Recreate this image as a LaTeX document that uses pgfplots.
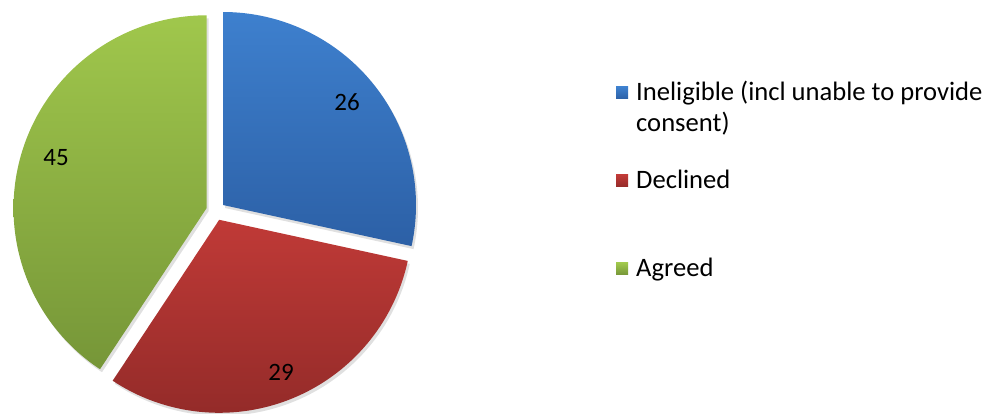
\documentclass[border=0pt]{standalone}
\usepackage{pgfplots}
\pgfplotsset{compat=1.18}
\usepackage{fontspec}
\setmainfont{Carlito}
\definecolor{bluetop}{RGB}{62,128,206}
\definecolor{bluebot}{RGB}{44,96,166}
\definecolor{redtop}{RGB}{192,58,55}
\definecolor{redbot}{RGB}{148,43,41}
\definecolor{greentop}{RGB}{160,199,76}
\definecolor{greenbot}{RGB}{118,150,56}
\begin{document}
\begin{tikzpicture}
\begin{axis}[name=ax,
  width=991pt, height=414pt, scale only axis,
  xmin=0, xmax=991, ymin=0, ymax=414, y dir=reverse,
  hide axis, clip=false]
% slice data: value, start angle, end angle (as drawn), slice centre
% Ineligible 26 : -12.3 .. 90,    centre (223.0,205.0)
% Declined   29 : -123.5 .. -12.3, centre (219.2,219.8)
% Agreed     45 : 90 .. 236.5,    centre (206.5,208.3)
% shadows
\addplot[draw=none, fill=black, fill opacity=0.12, domain=-12.3:90, samples=90, variable=\t]
  ({225.0+193*cos(t)}, {208.0-193*sin(t)}) -- (axis cs:225.0,208.0) -- cycle;
\addplot[draw=none, fill=black, fill opacity=0.12, domain=-123.5:-12.3, samples=90, variable=\t]
  ({221.2+193*cos(t)}, {222.8-193*sin(t)}) -- (axis cs:221.2,222.8) -- cycle;
\addplot[draw=none, fill=black, fill opacity=0.12, domain=90:236.5, samples=120, variable=\t]
  ({208.5+193*cos(t)}, {211.3-193*sin(t)}) -- (axis cs:208.5,211.3) -- cycle;
% slices
\addplot[draw=none, top color=bluetop, bottom color=bluebot, domain=-12.3:90, samples=90, variable=\t]
  ({223.0+193*cos(t)}, {205.0-193*sin(t)}) -- (axis cs:223.0,205.0) -- cycle;
\addplot[draw=none, top color=redtop, bottom color=redbot, domain=-123.5:-12.3, samples=90, variable=\t]
  ({219.2+193*cos(t)}, {219.8-193*sin(t)}) -- (axis cs:219.2,219.8) -- cycle;
\addplot[draw=none, top color=greentop, bottom color=greenbot, domain=90:236.5, samples=120, variable=\t]
  ({206.5+193*cos(t)}, {208.3-193*sin(t)}) -- (axis cs:206.5,208.3) -- cycle;
% data labels
\node[font=\fontsize{25}{30}\selectfont] at (axis cs:347,102.5) {26};
\node[font=\fontsize{25}{30}\selectfont] at (axis cs:281,372.5) {29};
\node[font=\fontsize{25}{30}\selectfont] at (axis cs:56,157.5) {45};
% legend keys
\addplot[draw=none, top color=bluetop, bottom color=bluebot] coordinates {(616,87) (628,87) (628,99) (616,99)} -- cycle;
\addplot[draw=none, top color=redtop, bottom color=redbot] coordinates {(616,175) (628,175) (628,187) (616,187)} -- cycle;
\addplot[draw=none, top color=greentop, bottom color=greenbot] coordinates {(616,263) (628,263) (628,275) (616,275)} -- cycle;
\node[anchor=base west, inner sep=0pt, font=\fontsize{26.6}{31}\selectfont] at (axis cs:636,100.5) {Ineligible (incl unable to provide};
\node[anchor=base west, inner sep=0pt, font=\fontsize{26.6}{31}\selectfont] at (axis cs:636,132) {consent)};
\node[anchor=base west, inner sep=0pt, font=\fontsize{26.6}{31}\selectfont] at (axis cs:636,188.5) {Declined};
\node[anchor=base west, inner sep=0pt, font=\fontsize{26.6}{31}\selectfont] at (axis cs:636,276.5) {Agreed};
\end{axis}
\pgfresetboundingbox
\path (ax.south west) rectangle (ax.north east);
\end{tikzpicture}
\end{document}
